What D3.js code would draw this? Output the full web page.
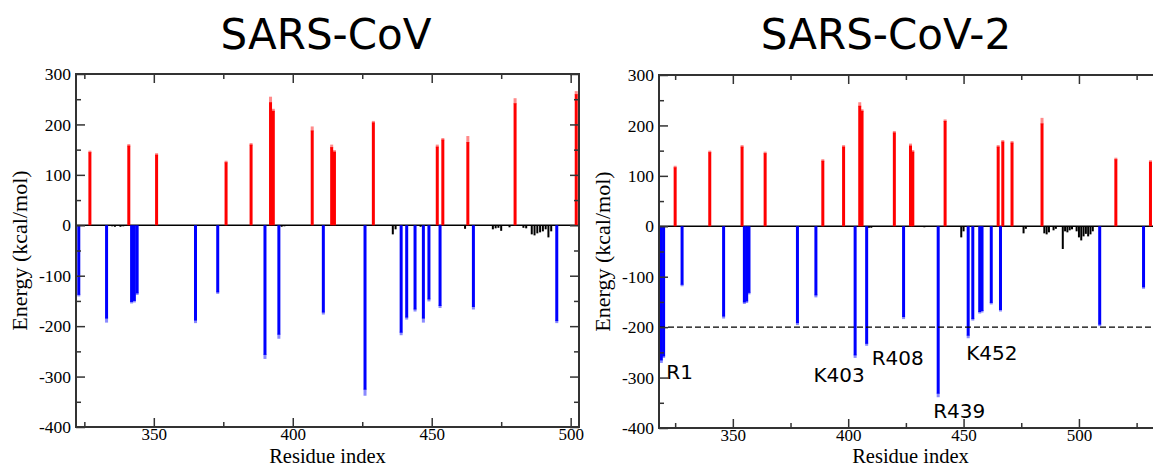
<!DOCTYPE html>
<html>
<head>
<meta charset="utf-8">
<script src="https://cdn.jsdelivr.net/npm/d3@7"></script>
<style>
  body { margin: 0; background: #fff; }
  .title { font-family: "DejaVu Sans", Verdana, sans-serif; font-size: 42px; text-anchor: middle; }
  .tick text { font-family: "Liberation Serif", "Times New Roman", serif; font-size: 17.5px; fill: #000; }
  .x-ticks .tick text { font-size: 17px; }
  .axis-label { font-family: "Liberation Serif", "Times New Roman", serif; font-size: 22px; text-anchor: middle; }
  .x-label { font-size: 20.5px; }
  .annot { font-family: "DejaVu Sans", Verdana, sans-serif; font-size: 20px; }
</style>
</head>
<body>
<svg width="1153" height="468"></svg>
<script>
// ---- data ----
// SARS-CoV: residue index, energy (kcal/mol), error
const covResPos = [327, 341, 351, 376, 385, 392, 393, 407, 414, 415, 429, 452, 454, 463, 480, 502];
const covValPos = [145, 158, 140, 125, 160, 244, 227, 188, 155, 146, 204, 156, 170, 165, 242, 260];
const covErrPos = [3, 3, 3, 3, 3, 11, 4, 8, 5, 3, 3, 4, 3, 12, 10, 6];
const covResNeg = [323, 333, 342, 343, 344, 365, 373, 390, 395, 411, 426, 439, 441, 444, 447, 449, 453, 465, 495];
const covValNeg = [-138, -185, -152, -150, -135, -189, -133, -257, -217, -173, -326, -213, -183, -167, -185, -147, -160, -162, -190];
const covErrNeg = [3, 8, 3, 3, 3, 5, 3, 8, 8, 4, 12, 5, 4, 4, 8, 4, 4, 5, 4];
const covResOther = [335, 336, 338, 339, 396, 397, 436, 437, 446, 462, 472, 473, 474, 475, 478, 483, 484, 486, 487, 488, 489, 490, 491, 492, 493];
const covValOther = [-2, -3, -3, -2, -3, -2, -18, -8, -3, -7, -8, -6, -5, -11, -4, -5, -6, -18, -20, -16, -14, -12, -8, -24, -12];

// SARS-CoV-2
const cov2ResPos = [325, 340, 354, 364, 389, 398, 405, 406, 420, 427, 428, 442, 465, 467, 471, 484, 516, 531];
const cov2ValPos = [117, 147, 158, 145, 130, 158, 239, 229, 186, 160, 148, 209, 158, 168, 166, 204, 133, 128];
const cov2ErrPos = [3, 3, 3, 3, 3, 3, 7, 3, 3, 4, 3, 3, 3, 3, 3, 11, 3, 3];
const cov2ResNeg = [319, 320, 328, 346, 355, 356, 357, 378, 386, 403, 408, 424, 439, 452, 454, 457, 458, 462, 466, 509, 528];
const cov2ValNeg = [-266, -258, -116, -179, -151, -149, -132, -192, -137, -256, -233, -180, -332, -217, -184, -170, -168, -152, -166, -195, -121];
const cov2ErrNeg = [5, 3, 3, 4, 3, 3, 3, 4, 4, 5, 4, 4, 7, 5, 3, 3, 3, 3, 3, 3, 3];
const cov2ResOther = [409, 410, 433, 449, 450, 476, 477, 485, 486, 487, 489, 490, 493, 494, 495, 496, 497, 499, 500, 501, 502, 503, 504, 505, 506];
const cov2ValOther = [-3, -3, -2, -22, -10, -14, -5, -14, -16, -12, -8, -5, -45, -10, -12, -8, -6, -10, -22, -28, -20, -15, -20, -16, -10];

// labelled residues in SARS-CoV-2 panel
const annotText = ['R1', 'K403', 'R408', 'R439', 'K452'];
const annotRes = [319, 403, 408, 439, 452];
const annotVal = [-266, -256, -233, -332, -217];
const cutoff = -200;

// axis ticks
const yMajor = [-400, -300, -200, -100, 0, 100, 200, 300];
const yMinor = [-350, -250, -150, -50, 50, 150, 250];
const xMajor = [350, 400, 450, 500];
const xMinor = [325, 375, 425, 475, 525];

// ---- layout ----
const svg = d3.select('svg');
const panels = [
  { title: 'SARS-CoV', titleX: 326, left: 76, right: 579, top: 74, bottom: 427, xDomain: [322, 503],
    pos: [covResPos, covValPos, covErrPos], neg: [covResNeg, covValNeg, covErrNeg], other: [covResOther, covValOther] },
  { title: 'SARS-CoV-2', titleX: 886, left: 659, right: 1162, top: 75, bottom: 428, xDomain: [318, 536],
    pos: [cov2ResPos, cov2ValPos, cov2ErrPos], neg: [cov2ResNeg, cov2ValNeg, cov2ErrNeg], other: [cov2ResOther, cov2ValOther],
    dashed: true, annot: true }
];
// label offsets from the bar tip (px): dx, dy, anchor
const annotOffset = [[5, 19, 'start'], [-16, 27, 'middle'], [5, 21, 'start'], [-5, 24, 'start'], [-2, 24, 'start']];
const barW = 3;
const otherW = 2;

panels.forEach(function (p) {
  const x = d3.scaleLinear().domain(p.xDomain).range([p.left, p.right]);
  const y = d3.scaleLinear().domain([-400, 300]).range([p.bottom, p.top]);
  const g = svg.append('g');
  const w = p.right - p.left, h = p.bottom - p.top;

  // baseline and small black bars
  g.append('line')
    .attr('x1', p.left).attr('x2', p.right)
    .attr('y1', y(0)).attr('y2', y(0))
    .attr('stroke', '#000').attr('stroke-width', 1.5);
  g.selectAll('.other').data(d3.zip(p.other[0], p.other[1])).enter().append('rect')
    .attr('x', d => x(d[0]) - otherW / 2).attr('width', otherW)
    .attr('y', y(0)).attr('height', d => y(d[1]) - y(0))
    .attr('fill', '#000');

  // positive (red) bars with error tips
  const posData = d3.zip(p.pos[0], p.pos[1], p.pos[2]);
  g.selectAll('.pos-err').data(posData).enter().append('rect')
    .attr('x', d => x(d[0]) - barW / 2).attr('width', barW)
    .attr('y', d => y(d[1] + d[2])).attr('height', d => y(d[1]) - y(d[1] + d[2]) + 1)
    .attr('fill', '#ff8a8a');
  g.selectAll('.pos').data(posData).enter().append('rect')
    .attr('x', d => x(d[0]) - barW / 2).attr('width', barW)
    .attr('y', d => y(d[1])).attr('height', d => y(0) - y(d[1]))
    .attr('fill', '#ff0000');

  // negative (blue) bars with error tips
  const negData = d3.zip(p.neg[0], p.neg[1], p.neg[2]);
  g.selectAll('.neg-err').data(negData).enter().append('rect')
    .attr('x', d => x(d[0]) - barW / 2).attr('width', barW)
    .attr('y', d => y(d[1]) - 1).attr('height', d => y(d[1] - d[2]) - y(d[1]) + 1)
    .attr('fill', '#8a8aff');
  g.selectAll('.neg').data(negData).enter().append('rect')
    .attr('x', d => x(d[0]) - barW / 2).attr('width', barW)
    .attr('y', y(0)).attr('height', d => y(d[1]) - y(0))
    .attr('fill', '#0000ff');

  if (p.dashed) {
    g.append('line')
      .attr('x1', p.left).attr('x2', p.right)
      .attr('y1', y(cutoff)).attr('y2', y(cutoff))
      .attr('stroke', '#000').attr('stroke-width', 1.3)
      .attr('stroke-dasharray', '6,3');
  }

  // axes: inward ticks on all four sides
  const ticksOn = function (axisFn, scale, vals, size, translate, labels, pad) {
    const a = axisFn(scale).tickValues(vals).tickSizeInner(-size).tickSizeOuter(0).tickPadding(pad || 5)
      .tickFormat(labels ? (d => String(d)) : '');
    const ag = g.append('g').attr('transform', translate).call(a);
    ag.select('.domain').remove();
    ag.selectAll('.tick line').attr('stroke', '#333').attr('stroke-width', 1.5);
    return ag;
  };
  const xVis = xMajor.filter(v => v > p.xDomain[0] && v < p.xDomain[1]);
  const xMin = xMinor.filter(v => v > p.xDomain[0] && v < p.xDomain[1]);
  ticksOn(d3.axisBottom, x, xVis, 9, `translate(0,${p.bottom})`, true, 1).attr('class', 'x-ticks');
  ticksOn(d3.axisBottom, x, xMin, 5, `translate(0,${p.bottom})`, false);
  ticksOn(d3.axisTop, x, xVis, 9, `translate(0,${p.top})`, false);
  ticksOn(d3.axisTop, x, xMin, 5, `translate(0,${p.top})`, false);
  ticksOn(d3.axisLeft, y, yMajor, 9, `translate(${p.left},0)`, true);
  ticksOn(d3.axisLeft, y, yMinor, 5, `translate(${p.left},0)`, false);
  ticksOn(d3.axisRight, y, yMajor, 9, `translate(${p.right},0)`, false);
  ticksOn(d3.axisRight, y, yMinor, 5, `translate(${p.right},0)`, false);

  // frame
  g.append('rect')
    .attr('x', p.left).attr('y', p.top).attr('width', w).attr('height', h)
    .attr('fill', 'none').attr('stroke', '#333').attr('stroke-width', 2);

  // labels
  svg.append('text').attr('class', 'title').attr('x', p.titleX).attr('y', 49).text(p.title);
  svg.append('text').attr('class', 'axis-label x-label')
    .attr('x', (p.left + p.right) / 2).attr('y', 463).text('Residue index');
  svg.append('text').attr('class', 'axis-label')
    .attr('transform', `translate(${p.left - 49},${(p.top + p.bottom) / 2}) rotate(-90)`)
    .text('Energy (kcal/mol)');

  if (p.annot) {
    annotText.forEach(function (t, i) {
      const o = annotOffset[i];
      svg.append('text').attr('class', 'annot')
        .attr('x', x(annotRes[i]) + o[0])
        .attr('y', y(annotVal[i]) + o[1])
        .attr('text-anchor', o[2])
        .text(t);
    });
  }
});
</script>
</body>
</html>
